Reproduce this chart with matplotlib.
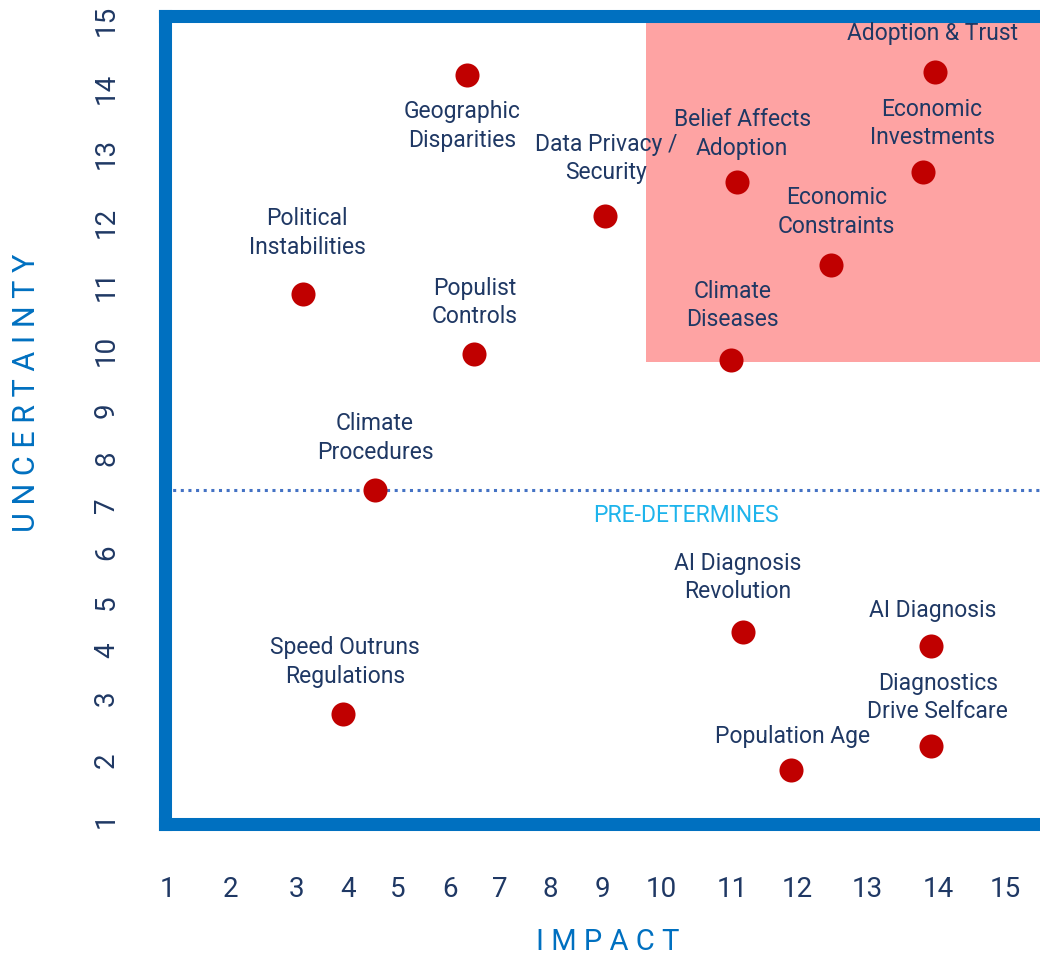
import numpy as np
import matplotlib
matplotlib.use('Agg')
import matplotlib.pyplot as plt
from matplotlib.patches import Rectangle

# data
labels = ['Geographic\nDisparities', 'Adoption & Trust', 'Economic\nInvestments',
          'Belief Affects\nAdoption', 'Data Privacy /\nSecurity', 'Economic\nConstraints',
          'Political\nInstabilities', 'Populist\nControls', 'Climate\nDiseases',
          'Climate\nProcedures', 'AI Diagnosis\nRevolution', 'AI Diagnosis',
          'Speed Outruns\nRegulations', 'Diagnostics\nDrive Selfcare', 'Population Age']
impact = [6.34, 13.96, 13.79, 11.08, 9.05, 12.49, 3.12, 6.48, 10.99,
          4.54, 11.17, 13.90, 3.90, 13.90, 11.91]
uncertainty = [14.19, 14.24, 12.72, 12.58, 12.09, 11.32, 10.86, 9.93, 9.83,
               7.32, 4.38, 4.08, 2.74, 2.23, 1.83]
ticks = list(range(1, 16))
threshold = 7.32          # PRE-DETERMINES line
zone_x, zone_y = 9.75, 9.8  # lower-left corner of the critical zone

# label offsets (pixels, relative to the dot)
offsets = [(-5, -51), (-3, 38), (9, 49), (5, 48), (1, 57), (5, 53), (4, 61),
           (1, 52), (1, 55), (0, 52), (-5, 54), (2, 36), (2, 52), (7, 48), (1, 34)]

# the original art has unevenly spaced ticks: pixel position of each tick
W, H = 1040, 959
x_tick_px = [168, 230, 297, 348, 398, 450, 500, 550, 602, 661, 732, 797, 867, 938, 1005]
y_tick_px = [820, 760, 698, 650, 602, 552, 505, 458, 410, 350, 285, 222, 153, 88, 20]

navy = '#1F3864'
frame = '#0070C0'


def piecewise(vals, pix):
    vals = np.asarray(vals, float)
    pix = np.asarray(pix, float)
    v = np.concatenate([[vals[0] - 10], vals, [vals[-1] + 10]])
    p = np.concatenate([[pix[0] - 10 * (pix[1] - pix[0])], pix,
                        [pix[-1] + 10 * (pix[-1] - pix[-2])]])
    return (lambda a: np.interp(a, v, p)), (lambda a: np.interp(a, p, v))


fx, ix = piecewise(ticks, x_tick_px)
fy, iy = piecewise(ticks, [H - p for p in y_tick_px])

plt.rcParams['font.family'] = ['Roboto', 'DejaVu Sans']

fig = plt.figure(figsize=(W / 100, H / 100), dpi=100)
left, right, top, bottom = 164.5, 1043, 16, 823.5
ax = fig.add_axes([left / W, 1 - bottom / H, (right - left) / W, (bottom - top) / H])

ax.set_xscale('function', functions=(fx, ix))
ax.set_yscale('function', functions=(fy, iy))
ax.set_xlim(float(ix(left)), float(ix(right)))
ax.set_ylim(float(iy(H - bottom)), float(iy(H - top)))

xmax, ymax = ax.get_xlim()[1], ax.get_ylim()[1]
ax.add_patch(Rectangle((zone_x, zone_y), xmax - zone_x, ymax - zone_y,
                       facecolor='#FEA3A3', edgecolor='none', zorder=1))

ax.axhline(threshold, color='#4472C4', lw=2.2, linestyle=(0, (1, 1.5)),
           dash_capstyle='butt', zorder=1.5)
ax.annotate('PRE-DETERMINES', (10.35, threshold), xytext=(0, -26),
            textcoords='offset pixels', ha='center', va='center',
            color='#1EB4EC', fontsize=16.5)

ax.scatter(impact, uncertainty, s=300, color='#C00000', zorder=3, linewidths=0)
for lab, x, y, (dx, dy) in zip(labels, impact, uncertainty, offsets):
    ax.annotate(lab, (x, y), xytext=(dx, dy), textcoords='offset pixels',
                ha='center', va='center', color=navy, fontsize=16.5,
                linespacing=1.3, zorder=4)

for s in ax.spines.values():
    s.set_color(frame)
    s.set_linewidth(9.4)

ax.set_xticks(ticks)
ax.set_yticks(ticks)
ax.set_xticklabels([str(t) for t in ticks])
ax.set_yticklabels([str(t) for t in ticks], rotation=90, va='center')
ax.tick_params(axis='x', length=0, pad=38, labelsize=20, labelcolor=navy)
ax.tick_params(axis='y', length=0, pad=32, labelsize=20, labelcolor=navy)

fig.text(608 / W, 1 - 942 / H, 'I M P A C T', ha='center', va='center',
         color=frame, fontsize=21)
fig.text(27 / W, 1 - 393 / H, 'U N C E R T A I N T Y', ha='center', va='center',
         rotation=90, color=frame, fontsize=22)

fig.savefig('out.png', dpi=100)
